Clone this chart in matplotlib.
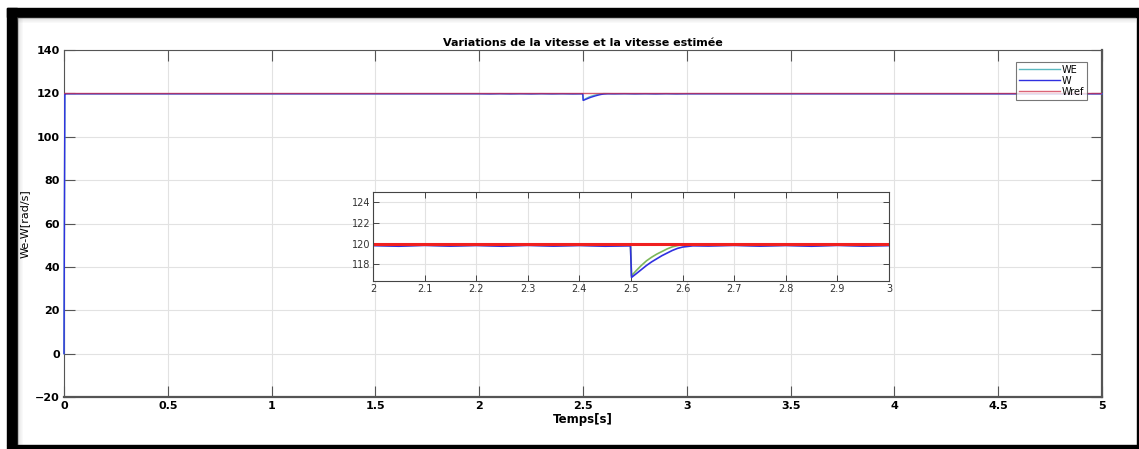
import numpy as np
import matplotlib
matplotlib.use("Agg")
import matplotlib.pyplot as plt
from matplotlib.patches import Rectangle

# temps [s]
t = [0, 0.004, 0.008, 2.0, 2.05, 2.1, 2.15, 2.2, 2.25, 2.3, 2.35, 2.4, 2.45,
     2.499, 2.501, 2.51, 2.52, 2.53, 2.54, 2.55, 2.56, 2.57, 2.58, 2.59, 2.6,
     2.62, 2.65, 2.7, 2.75, 2.8, 2.85, 2.9, 2.95, 3.0, 5.0]

W = [0, 119.8, 119.8, 119.82, 119.76, 119.84, 119.77, 119.83, 119.76, 119.84, 119.77,
     119.83, 119.76, 119.80, 116.75, 117.1, 117.5, 117.9, 118.25, 118.55, 118.85,
     119.1, 119.35, 119.55, 119.68, 119.8, 119.78, 119.84, 119.77, 119.83, 119.76,
     119.84, 119.77, 119.82, 119.8]

WE = [0, 119.85, 119.85, 119.86, 119.82, 119.87, 119.82, 119.86, 119.82, 119.87, 119.82,
      119.86, 119.82, 119.85, 116.9, 117.4, 117.9, 118.35, 118.7, 119.0, 119.25,
      119.5, 119.7, 119.82, 119.9, 119.88, 119.84, 119.87, 119.82, 119.86, 119.82,
      119.87, 119.82, 119.86, 119.85]

tref = [0, 5]
Wref = [120, 120]

c_we = '#5ab8c0'
c_w = '#3030e0'
c_ref = '#d0304a'

fig = plt.figure(figsize=(11.39, 4.49), dpi=100)
fig.patch.set_facecolor('white')

# cadre noir de la capture
fig.add_artist(Rectangle((7/1139, 4/449), 10/1139, 437/449, transform=fig.transFigure, color='black', zorder=0))
fig.add_artist(Rectangle((7/1139, 432/449), 1130/1139, 9/449, transform=fig.transFigure, color='black', zorder=0))
fig.add_artist(Rectangle((7/1139, 0), 1132/1139, 4/449, transform=fig.transFigure, color='black', zorder=0))
fig.add_artist(Rectangle((1137/1139, 0), 2/1139, 441/449, transform=fig.transFigure, color='black', zorder=0))
for k in range(6):
    a = 0.25 * (1 - k/6)
    fig.add_artist(Rectangle((17/1139, (431 - k)/449), 1119/1139, 1/449, transform=fig.transFigure, color='gray', alpha=a, lw=0, zorder=0))
    fig.add_artist(Rectangle(((17 + k)/1139, 4/449), 1/1139, 427/449, transform=fig.transFigure, color='gray', alpha=a, lw=0, zorder=0))

ax = fig.add_axes([64/1139, 52/449, 1038/1139, 347/449])
ax.plot(t, WE, color=c_we, lw=1.0, label='WE', clip_on=False, zorder=4)
ax.plot(t, W, color=c_w, lw=1.0, label='W', clip_on=False, zorder=4)
ax.plot(tref, Wref, color=c_ref, lw=1.0, alpha=0.75, label='Wref', zorder=5)
ax.set_xlim(0, 5)
ax.set_ylim(-20, 140)
ax.set_xticks(np.arange(0, 5.01, 0.5))
ax.set_xticklabels(['0', '0.5', '1', '1.5', '2', '2.5', '3', '3.5', '4', '4.5', '5'])
ax.set_yticks(np.arange(-20, 141, 20))
ax.grid(True, color='#e2e2e2', lw=0.8)
ax.tick_params(direction='in', length=8, width=0.8, color='#555555', labelsize=8, pad=3,
               right=True, top=True)
for lab in ax.get_xticklabels() + ax.get_yticklabels():
    lab.set_fontweight('bold')
for s in ax.spines.values():
    s.set_color('#555555')
ax.spines['bottom'].set_linewidth(1.6)
ax.spines['right'].set_linewidth(1.6)
ax.set_title('Variations de la vitesse et la vitesse estimée', fontsize=8, fontweight='bold', pad=3)
ax.set_xlabel('Temps[s]', fontsize=8.5, fontweight='bold', labelpad=1)
ax.set_ylabel('We-W[rad/s]', fontsize=8, labelpad=4)
leg = ax.legend(loc='upper right', fontsize=7, frameon=True, fancybox=False,
                edgecolor='#555555', borderpad=0.3, labelspacing=0.1, handlelength=4.2,
                handletextpad=0.2, bbox_to_anchor=(0.99, 0.98))
leg.get_frame().set_linewidth(0.8)

ins = fig.add_axes([373/1139, 168/449, 516/1139, 89/449])
ins.plot(t, WE, color='#7cb85a', lw=1.2)
ins.plot(t, W, color=c_w, lw=1.2)
ins.plot(tref, Wref, color='#f02020', lw=2.2)
ins.set_xlim(2, 3)
ins.set_ylim(116.4, 125)
ins.set_xticks(np.arange(2, 3.01, 0.1))
ins.set_xticklabels(['2', '2.1', '2.2', '2.3', '2.4', '2.5', '2.6', '2.7', '2.8', '2.9', '3'])
ins.set_yticks([118, 120, 122, 124])
ins.grid(True, color='#e2e2e2', lw=0.8)
ins.tick_params(direction='in', length=4, width=0.7, color='#444444', labelsize=7,
                labelcolor='#333333', pad=2, right=True, top=True)
for s in ins.spines.values():
    s.set_color('#444444')
    s.set_linewidth(0.8)

fig.savefig('out.png', dpi=100)
